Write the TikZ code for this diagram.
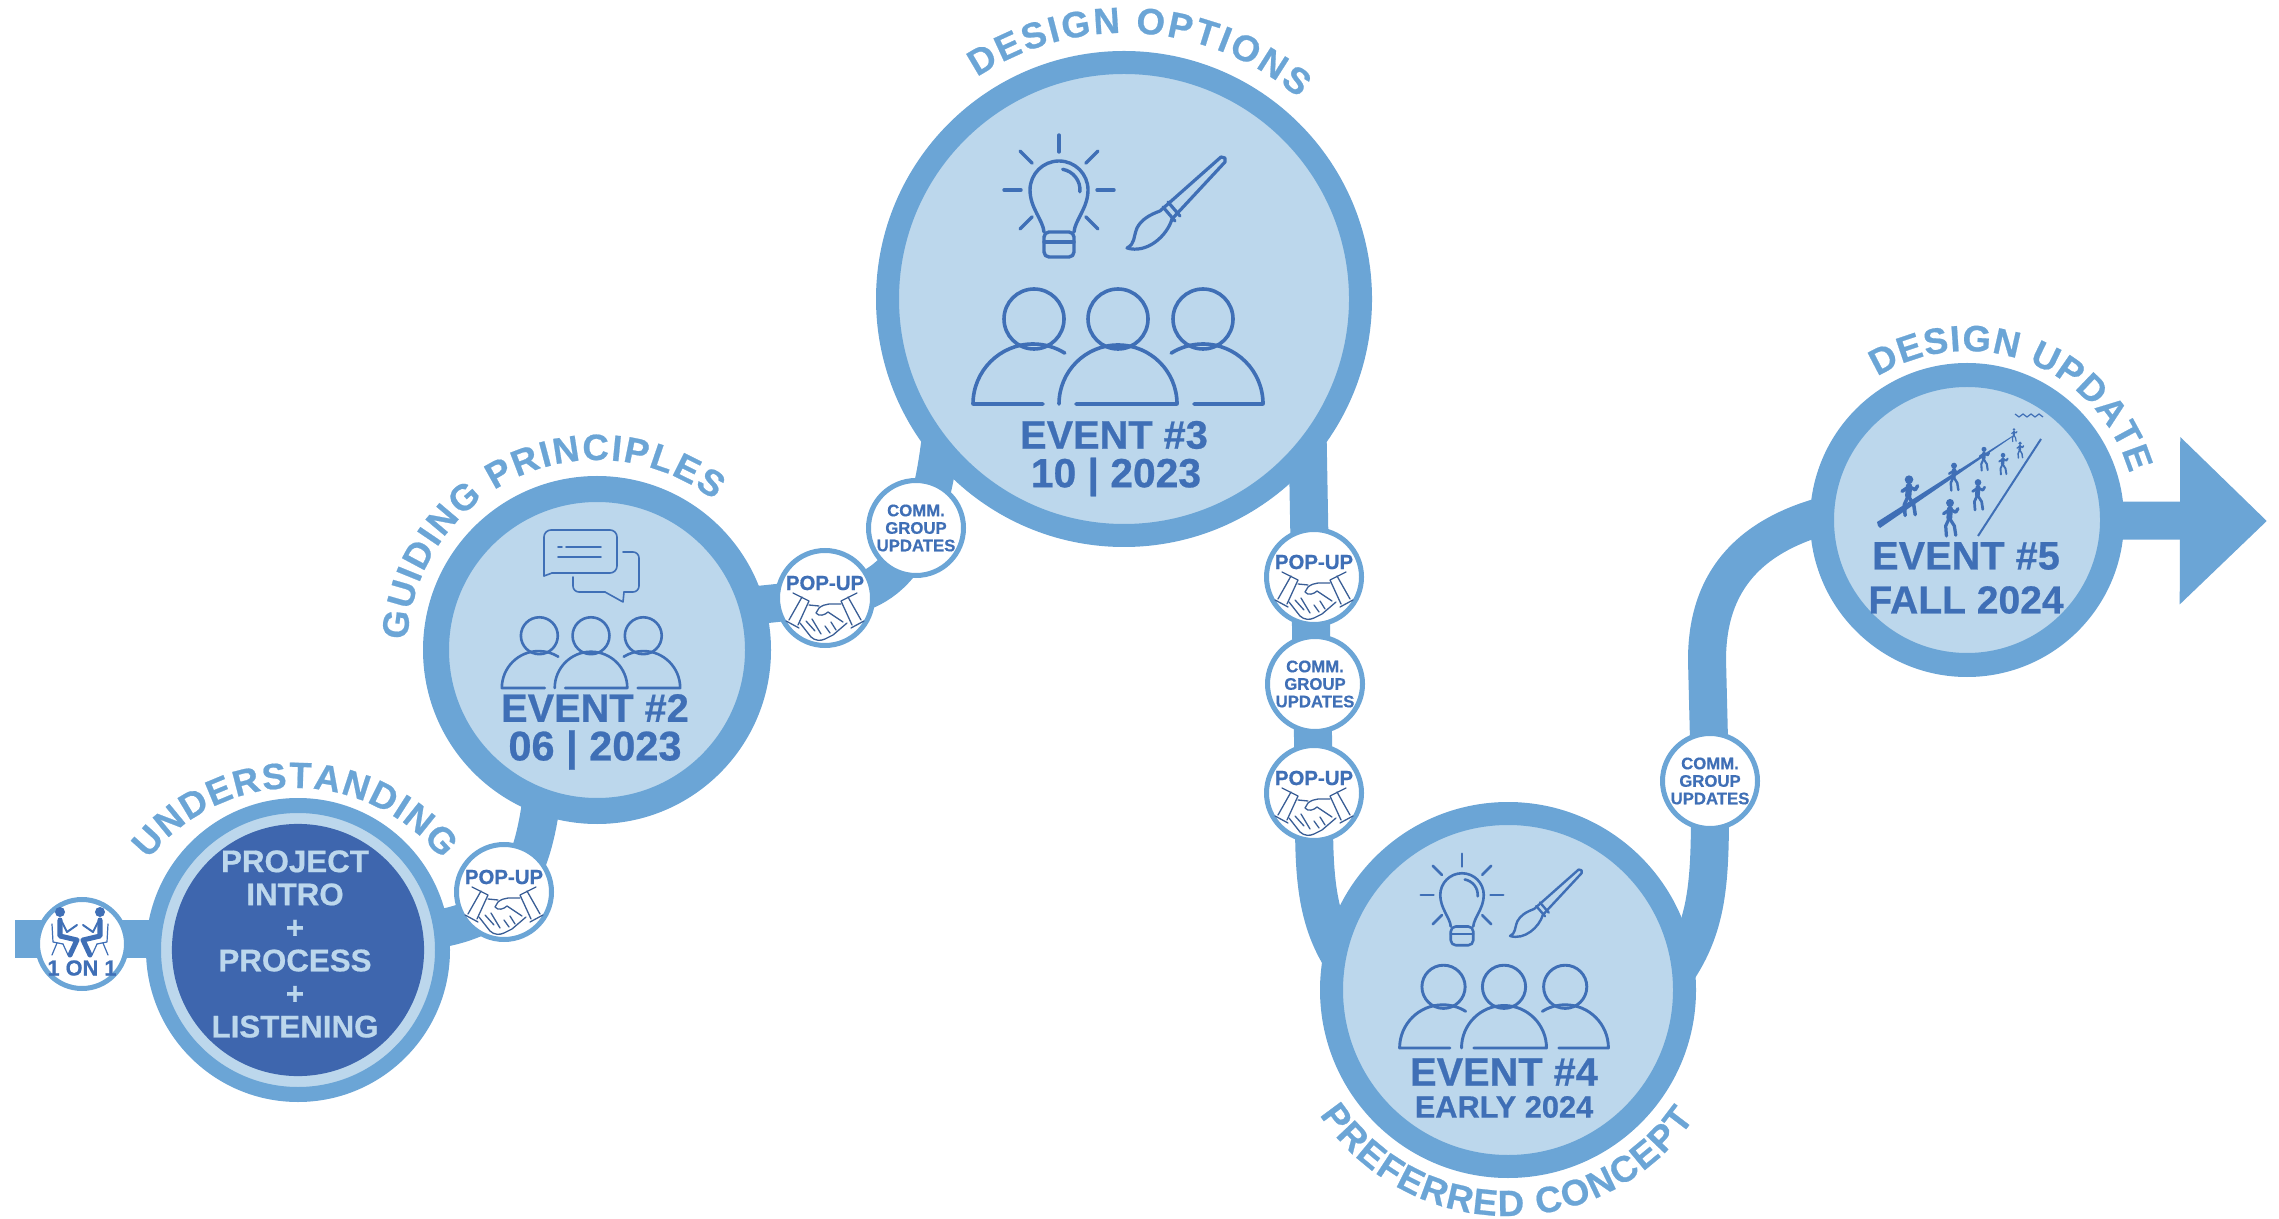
\documentclass[tikz,border=0pt]{standalone}
\usepackage{fontspec}
\setmainfont[BoldFeatures={FakeBold=0.6}]{Liberation Sans}
\usetikzlibrary{arrows.meta,backgrounds,decorations.text}

\definecolor{pathblue}{HTML}{6BA5D6}
\definecolor{ringfill}{HTML}{BCD7EC}
\definecolor{inkblue}{HTML}{3F6FB6}
\definecolor{coreblue}{HTML}{3E66AE}
\definecolor{shakeink}{HTML}{3A5E96}

\newcommand{\titlefont}{\bfseries\fontsize{10.4pt}{10.4pt}\selectfont\color{pathblue}}

\tikzset{
    ring/.style 2 args={circle,outer sep=0pt,inner sep=0pt,draw=pathblue,fill=ringfill,minimum size=#1*0.01cm,line width=#2*0.01cm},
    smallring/.style={circle,outer sep=0pt,inner sep=0pt,draw=pathblue,fill=white,minimum size=#1*0.01cm,line width=0.05cm},
    band/.style={draw=pathblue,line width=0.38cm},
    sunk/.style={shorten <=-0.3cm,shorten >=-0.3cm},
    biglabel/.style={text=inkblue,font=\bfseries\fontsize{11.3pt}{13pt}\selectfont,inner sep=0pt},
    midlabel/.style={text=inkblue,font=\bfseries\fontsize{8.75pt}{10pt}\selectfont,inner sep=0pt},
    poplabel/.style={text=inkblue,font=\bfseries\fontsize{5.8pt}{6pt}\selectfont,inner sep=0pt},
    commlabel/.style={text=inkblue,align=center,font=\bfseries\fontsize{4.76pt}{4.98pt}\selectfont,inner sep=0pt},
    titlearc/.style={decorate,decoration={text along path,text align={fit to path},text={#1}}},
    iconline/.style={color=inkblue,line width=#1*0.01cm,line cap=round,line join=round},
    pics/people/.style={code={
        \draw (0,85) circle[radius=30];
        \draw (-84,85) circle[radius=30];
        \draw (85,85) circle[radius=30];
        \draw (-42,0) -- (59,0) arc[start angle=0,end angle=180,radius=59];
        \draw (-75,0) -- (-145,0) arc[start angle=180,end angle=58,radius=60];
        \draw (76,0) -- (145,0) arc[start angle=0,end angle=122,radius=60];
    }},
    pics/bulb/.style={code={
        \foreach \a in {-45,0,45,90,135,180,225}
            \draw (\a:38) -- (\a:55);
        \draw (-15,-42) .. controls (-16,-30) and (-29,-18) .. (-29,0) arc[start angle=180,end angle=0,radius=29] .. controls (29,-18) and (16,-30) .. (15,-42);
        \draw[rounded corners=0.05cm] (-15,-42) -- (-15,-67) -- (15,-67) -- (15,-42) -- cycle;
        \draw (-15,-52) -- (15,-52);
        \draw (80:21) arc[start angle=80,end angle=-5,radius=21];
    }},
    pics/brush/.style={code={
        \draw (33,37) -- (94,91) -- (98,90) -- (98,86) -- (45,29) .. controls (40,12) and (20,-6) .. (0,0) .. controls (8,4) and (6,10) .. (10,20) .. controls (14,28) and (22,33) .. (33,37);
        \draw (36,41) -- (48,27);
        \draw (41,46) -- (53,32);
    }},
    pics/chats/.style={code={
        \draw[rounded corners=0.07cm] (0,-3) -- (0,43) -- (73,43) -- (73,0) -- (8,0);
        \draw (8,0) -- (0,-3);
        \draw[rounded corners=0.06cm] (29,-4) -- (29,-19) -- (61,-19);
        \draw (61,-19) -- (79,-29) -- (80,-19);
        \draw[rounded corners=0.06cm] (80,-19) -- (95,-19) -- (95,21) -- (79,21);
        \draw (14,26) -- (18,26) (22,26) -- (57,26);
        \draw (14,16) -- (57,16);
    }},
    pics/shake/.style={code={
        \draw (-32,5) -- (-16,-3) -- (-27,-27);
        \draw (-23,1) -- (-36,-22);
        \draw (-39,-23) -- (-26,-30);
        \draw (32,5) -- (16,-3) -- (27,-27);
        \draw (23,1) -- (36,-22);
        \draw (39,-23) -- (26,-30);
        \draw (-16,-7) -- (-6,-8);
        \draw (16,-6) .. controls (6,-6) and (0,-5) .. (-6,-10) -- (-9,-15) .. controls (-6,-19) and (0,-17) .. (3,-14) -- (18,-24);
        \draw (-25,-25) -- (-14,-39) .. controls (-10,-43) and (-4,-43) .. (0,-41) -- (8,-37) -- (22,-25);
        \draw (-19,-23) -- (-10,-33);
        \draw (-13,-21) -- (-4,-36);
        \draw (0,-28) -- (5,-35);
        \draw (6,-24) -- (11,-32);
    }},
    pics/sitter/.style={code={
        \fill (-22,32) circle[radius=5];
        \draw[line width=0.05cm] (-22,24) -- (-22,8) -- (-5,4) -- (-12,-11);
        \draw[line width=0.02cm] (-20,22) -- (-15,12) -- (-5,19);
        \draw[line width=0.012cm] (-30,20) -- (-29,2) -- (-19,0);
        \draw[line width=0.012cm] (-25,1) -- (-30,-11);
        \draw[line width=0.012cm] (-19,0) -- (-14,-11);
    }},
    pics/walker/.style={code={
        \fill (0,42) circle[radius=11];
        \draw[line width=1.8*\pgfkeysvalueof{/tikz/walkerw}] (0,26) -- (-2,0);
        \draw[line width=\pgfkeysvalueof{/tikz/walkerw}] (-2,0) -- (-12,-22) -- (-10,-50);
        \draw[line width=\pgfkeysvalueof{/tikz/walkerw}] (-2,0) -- (12,-22) -- (16,-48);
        \draw[line width=\pgfkeysvalueof{/tikz/walkerw}] (0,24) -- (-18,12);
        \draw[line width=\pgfkeysvalueof{/tikz/walkerw}] (0,24) -- (16,16) -- (22,26);
    }},
    walkerw/.initial=1pt
}

\begin{document}
\begin{tikzpicture}[x=0.01cm,y=0.01cm]
    \useasboundingbox (0,0) rectangle (2279,-1219);

    \node[ring={289}{15}] (ev1) at (298,-950) {};
    \node[circle,inner sep=0pt,fill=coreblue,minimum size=2.52cm] (ev1core) at (298,-950) {};
    \node[ring={322}{26}] (ev2) at (597,-650) {};
    \node[ring={473}{23}] (ev3) at (1124,-299) {};
    \node[ring={353}{23}] (ev4) at (1508,-990) {};
    \node[ring={290}{24}] (ev5) at (1967,-520) {};

    \coordinate (start) at (15,-939);
    \coordinate (tip) at (2267,-521);
    \coordinate (arcone) at (295,-974);

    \node[smallring=89] (onone) at (82,-944) {};
    \foreach \nm/\cx/\cy in {popa/504/892,popb/825/598,popc/1314/577,popd/1314/793}{
        \node[smallring=95] (\nm) at (\cx,\cy*-1) {};
        \node[poplabel] (\nm-label) at ([yshift=0.15cm]\nm.center) {POP-UP};
        \pic[iconline=1.3,color=shakeink] at (\nm.center) {shake};
    }
    \foreach \nm/\cx/\cy in {comma/916/528,commb/1315/684,commc/1710/781}{
        \node[smallring=95] (\nm) at (\cx,\cy*-1) {};
        \node[commlabel] (\nm-label) at (\nm.center) {COMM.\\GROUP\\UPDATES};
    }

    \begin{scope}[on background layer]
        \draw[band] (start) -- (start -| ev1.center);
        \draw[band,sunk] (ev1.8) .. controls (510,-925) and (535,-880) .. (ev2.-110);
        \draw[band,sunk] (ev2.16) -- (popb.center) .. controls (885,-598) and (931,-560) .. (ev3.219);
        \draw[band,sunk] (ev3.-39) -- (popd.center) .. controls (1314,-870) and (1312,-925) .. (ev4.168);
        \draw[band,sunk] (ev4.8) .. controls (1712,-930) and (1710,-880) .. (commc.center) -- (1707,-660) .. controls (1707,-590) and (1740,-530) .. (ev5.178);
        \draw[band,-{Triangle[length=0.87cm,width=1.62cm]}] (ev5.center) -- (tip);
    \end{scope}

    \path[titlearc={|\titlefont|UNDERSTANDING}] ([shift={(142:186)}]arcone) arc[start angle=142,end angle=38,radius=186];
    \path[titlearc={|\titlefont|GUIDING PRINCIPLES}] ([shift={(177:190)}]ev2.center) arc[start angle=177,end angle=52,radius=190];
    \path[titlearc={|\titlefont|DESIGN OPTIONS}] ([shift={(123.5:266)}]ev3.center) arc[start angle=123.5,end angle=49,radius=266];
    \path[titlearc={|\titlefont|PREFERRED CONCEPT}] ([shift={(213.5:226)}]ev4.center) arc[start angle=213.5,end angle=325.5,radius=226];
    \path[titlearc={|\titlefont|DESIGN UPDATE}] ([shift={(122:169)}]ev5.center) arc[start angle=122,end angle=16,radius=169];

    \node[text=ringfill,align=center,font=\bfseries\fontsize{8.9pt}{9.4pt}\selectfont,inner sep=0pt] (ev1text) at (295,-944) {PROJECT\\INTRO\\+\\PROCESS\\+\\LISTENING};
    \node[biglabel] (ev2top) at (595,-708) {EVENT \#2};
    \node[biglabel,font=\bfseries\fontsize{11.8pt}{13pt}\selectfont] (ev2low) at (595,-750) {06 | 2023};
    \node[biglabel] (ev3top) at (1114,-435) {EVENT \#3};
    \node[biglabel,font=\bfseries\fontsize{11.6pt}{13pt}\selectfont] (ev3low) at (1116,-477) {10 | 2023};
    \node[biglabel] (ev4top) at (1504,-1072) {EVENT \#4};
    \node[midlabel] (ev4low) at (1504,-1107) {EARLY 2024};
    \node[biglabel] (ev5top) at (1966,-556) {EVENT \#5};
    \node[biglabel,font=\bfseries\fontsize{11.1pt}{13pt}\selectfont] (ev5low) at (1966,-600) {FALL 2024};

    \pic[iconline=2.6,scale=0.615] at (591,-688) {people};
    \pic[iconline=1.6] at (544,-573) {chats};
    \pic[iconline=3.6] at (1118,-404) {people};
    \pic[iconline=3.4] at (1059,-190) {bulb};
    \pic[iconline=3.2] at (1127,-248) {brush};
    \pic[iconline=2.9,scale=0.72] at (1504,-1048) {people};
    \pic[iconline=2.6,scale=0.75] at (1462,-895) {bulb};
    \pic[iconline=2.4,scale=0.73] at (1510,-936) {brush};

    \pic[iconline=1] at (onone.center) {sitter};
    \pic[iconline=1,xscale=-1] at ([xshift=-0.04cm]onone.center) {sitter};
    \node[text=inkblue,font=\bfseries\fontsize{6.2pt}{7pt}\selectfont,inner sep=0pt] (ononelabel) at ([yshift=-0.24cm]onone.center) {1 ON 1};

    \fill[inkblue] (1878,-526) -- (1877,-522) -- (2013,-435.5) -- (2013,-436.5) -- (1880,-528) -- cycle;
    \draw[inkblue,line width=0.02cm] (1978,-536) -- (2041,-439);
    \draw[inkblue,line width=0.012cm] (2015,-414) -- (2019,-417) -- (2023,-414) -- (2027,-417) -- (2031,-414) -- (2035,-417) -- (2039,-414) -- (2043,-417);
    \foreach \wx/\wy/\wh in {1909/496/39,1954/477/27,1984/459/23,2014/435/13,2003/464/21,2020/450/16,1978/495/30,1950/518/36}{
        \pic[iconline=1,scale=\wh/100,walkerw=\wh*0.0009cm] at (\wx,\wy*-1) {walker};
    }
\end{tikzpicture}
\end{document}
